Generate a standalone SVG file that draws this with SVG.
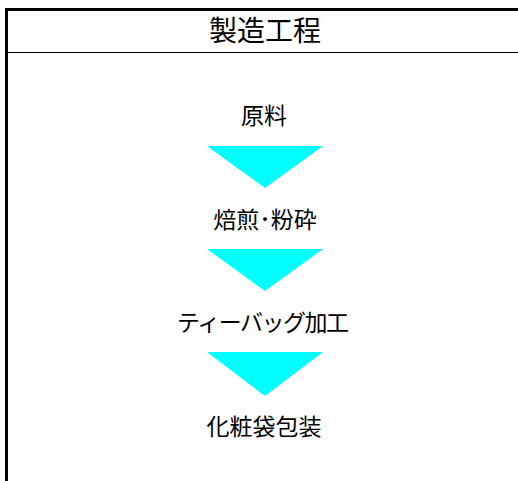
<svg xmlns="http://www.w3.org/2000/svg" width="518" height="481" viewBox="0 0 518 481">
<style>
.t{font-family:"Noto Sans CJK JP","Noto Sans CJK SC",sans-serif;fill:#000;text-anchor:middle}
.step{font-size:23px}
.title{font-size:28px}
.arr{fill:#00FFFF}
</style>
<rect width="518" height="481" fill="#fff"/>
<g id="frame">
<line x1="5" y1="9.5" x2="518" y2="9.5" stroke="#000" stroke-width="3"/>
<line x1="6.5" y1="8" x2="6.5" y2="481" stroke="#000" stroke-width="3"/>
<line x1="8" y1="52.5" x2="518" y2="52.5" stroke="#000" stroke-width="1.2"/>
</g>
<g id="title"><text class="t title" x="265" y="41">製造工程</text></g>
<g id="n1"><text class="t step" x="264" y="124">原料</text></g>
<g id="n2"><text class="t step" x="265" y="228">焙煎･粉砕</text></g>
<g id="n3"><text class="t step" x="263" y="331" textLength="172" lengthAdjust="spacing">ティーバッグ加工</text></g>
<g id="n4"><text class="t step" x="264" y="435">化粧袋包装</text></g>
<g id="connectors">
<polygon class="arr" points="207,146 323,146 265,188"/>
<polygon class="arr" points="207,249 323,249 265,291"/>
<polygon class="arr" points="207,352 323,352 265,396"/>
</g>
</svg>
